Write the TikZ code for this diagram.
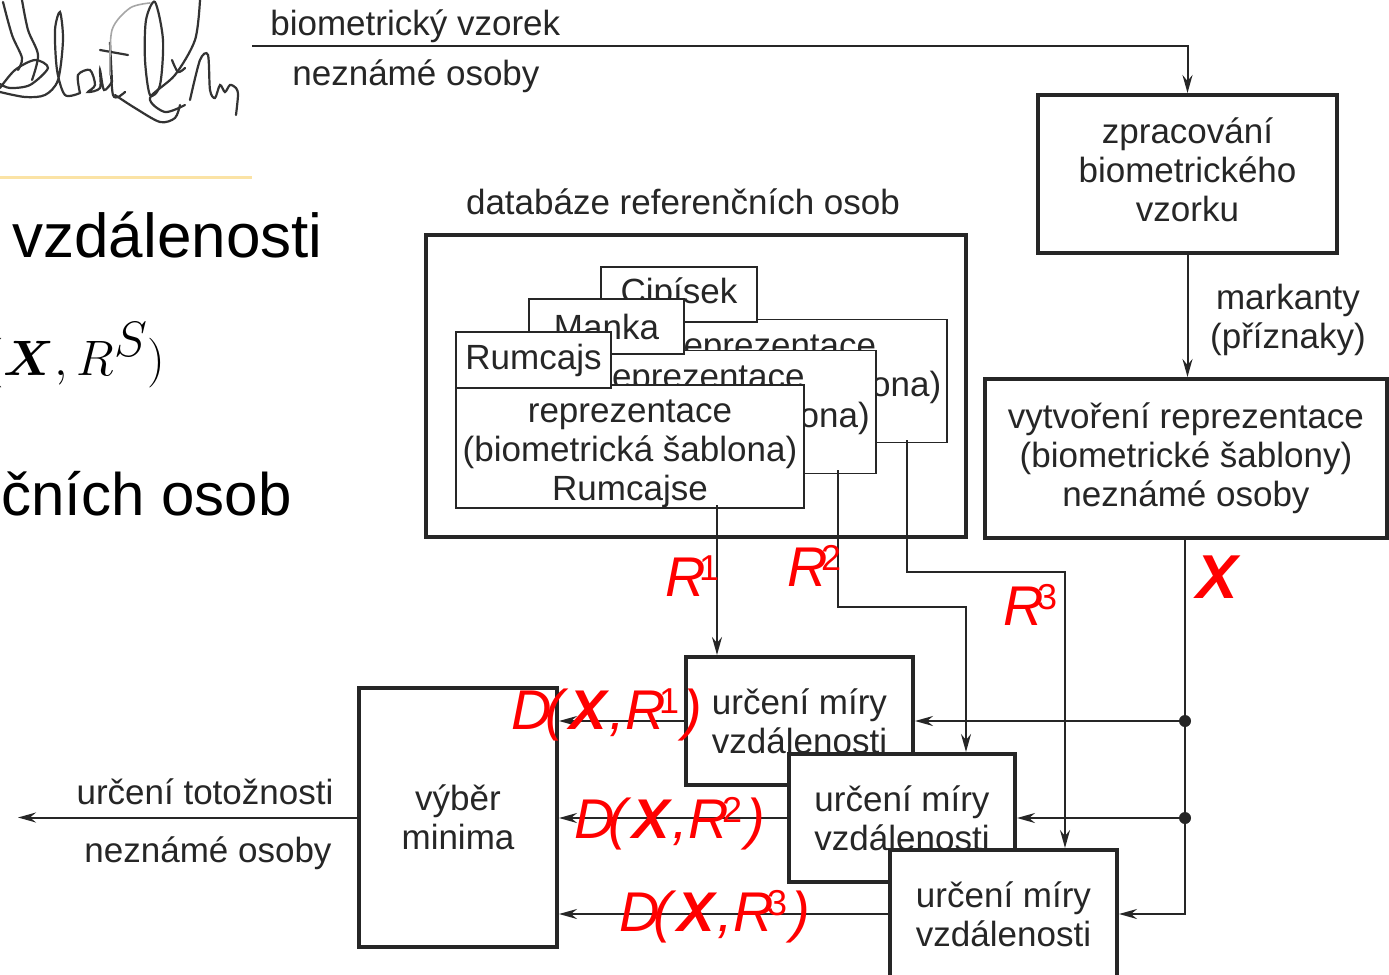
\documentclass[tikz,border=0pt]{standalone}
\usepackage{amsmath}
\usepackage[no-math]{fontspec}
\setmainfont{Liberation Sans}
\usetikzlibrary{arrows.meta}
\definecolor{ln}{HTML}{262626}
\definecolor{rd}{HTML}{FF0000}
\definecolor{org}{HTML}{FBE3A5}
\newcommand{\fs}{\fontsize{17.5}{19.5}\selectfont}
\newcommand{\bigfs}{\fontsize{30}{36}\selectfont}
\newcommand{\rfs}{\fontsize{28}{30}\selectfont}
\newcommand{\topstrut}{\rule{0pt}{19pt}}
\newcommand{\supR}[1]{\textit{R}\kern-0.12em\raisebox{8pt}{\fontsize{18}{18}\selectfont #1}}
\newcommand{\dxr}[1]{\textit{D}\kern-0.12em\textit{(}\kern0.02em\textbf{\textit{X}}\textit{,}\supR{#1}\kern0.08em\textit{)}}
\begin{document}
\begin{tikzpicture}[x=0.5pt,y=-0.5pt,
  box/.style={draw=ln, line width=2pt, fill=white, inner sep=0pt, font=\fs, align=center, text=ln},
  card/.style={draw=ln, line width=0.8pt, fill=white, inner sep=0pt, font=\fs, align=center, text=ln},
  conn/.style={draw=ln, line width=1pt},
  arr/.style={conn, -{Stealth[length=9pt,width=5pt,inset=3pt]}},
  lbl/.style={font=\fs, text=ln, inner sep=0pt, align=center},
  redlbl/.style={font=\rfs, text=rd, inner sep=0pt},
  sig/.style={draw=black!80, line width=1.1pt, line cap=round},
]
\useasboundingbox (0,0) rectangle (1389,975);
\fill[white] (0,0) rectangle (1389,975);
\clip (0,0) rectangle (1389,975);

% signature
\draw[sig] plot[smooth] coordinates {(3,2) (12,35) (22,58) (18,70)};
\draw[sig] plot[smooth] coordinates {(22,0) (28,30) (38,55) (32,80)};
\draw[sig] plot[smooth] coordinates {(0,88) (15,70) (35,60) (48,68) (30,85) (10,88) (0,84)};
\draw[sig] plot[smooth] coordinates {(0,92) (25,97) (45,95) (58,80) (63,40) (60,12) (55,30) (57,70) (65,95) (80,93)};
\draw[sig] plot[smooth] coordinates {(80,93) (78,75) (90,70) (95,85) (88,92) (100,88) (100,70) (104,90) (112,82)};
\draw[sig] plot[smooth] coordinates {(112,82) (110,42) (113,95) (125,92)};
\draw[sig] (100,50) -- (128,55);
\draw[sig] plot[smooth cycle] coordinates {(155,2) (163,40) (160,85) (150,95) (145,60) (146,20)};
\draw[sig, draw=black!35, line width=0.8pt] plot[smooth] coordinates {(110,75) (112,30) (130,8) (150,3)};
\draw[sig] plot[smooth] coordinates {(115,95) (135,108) (160,122) (175,118) (180,105)};
\draw[sig] plot[smooth] coordinates {(200,0) (195,40) (175,75) (150,98) (165,112) (185,105)};
\draw[sig] plot[smooth] coordinates {(190,100) (200,60) (208,55) (210,90) (215,98) (220,85) (225,92) (230,85) (236,88) (238,95) (236,115)};
\draw[sig] plot[smooth] coordinates {(172,60) (178,72) (185,68)};
\draw[org, line width=1.5pt] (0,177) -- (252,177);

% left slide text
\node[anchor=base west, inner sep=0pt, font=\fontsize{31}{36}\selectfont] (t1) at (12,257) {vzdálenosti};
\node[anchor=base east, inner sep=0pt, font=\fontsize{33}{38}\selectfont] (t2) at (166,375) {$(\boldsymbol{X}, R^{S})$};
\node[anchor=base east, inner sep=0pt, font=\bigfs] (t3) at (292,515) {referenčních osob};

% database
\node[box] (db) at (696,386) [minimum width=270pt, minimum height=151pt] {};
\node[lbl, anchor=base] (dbl) at (683,214) {databáze referenčních osob};

\node[card, minimum width=173pt, minimum height=59pt] (cipB) at (774,381) {\topstrut reprezentace\\(biometrická šablona)\\Cipíska};
\node[card, minimum width=78pt, minimum height=27.5pt] (cipT) at (679,294.5) {Cipísek};
\node[card, minimum width=173.5pt, minimum height=58pt] (manB) at (702.5,412) {\topstrut reprezentace\\(biometrická šablona)\\Manky};
\node[card, minimum width=77.5pt, minimum height=27.5pt] (manT) at (606.5,326.5) {Manka};
\node[card, minimum width=174pt, minimum height=58.5pt] (rumB) at (630,446.5) {\topstrut reprezentace\\(biometrická šablona)\\Rumcajse};
\node[card, minimum width=77.5pt, minimum height=28pt] (rumT) at (533.5,360) {Rumcajs};

% right column
\node[box, minimum width=149.5pt, minimum height=79pt] (zprac) at (1187.5,174) {zpracování\\biometrického\\vzorku\rule[-4pt]{0pt}{1pt}};
\node[box, minimum width=201pt, minimum height=79.5pt] (vytv) at (1186,458.5) {vytvoření reprezentace\\(biometrické šablony)\\neznámé osoby};

% distance boxes
\node[box, minimum width=113.5pt, minimum height=64pt] (box1) at (799.5,721) {určení míry\\vzdálenosti};
\node[box, minimum width=113pt, minimum height=64pt] (box2) at (902,818) {určení míry\\vzdálenosti};
\node[box, minimum width=113.5pt, minimum height=64pt] (box3) at (1003.5,914) {určení míry\\vzdálenosti};
\node[box, minimum width=99pt, minimum height=129.5pt] (min) at (458,817.5) {výběr\\minima};

% top input
\coordinate (s0) at (252,46);
\draw[arr] (s0) -| (zprac.north);
\node[lbl, anchor=base west] (bv) at (270,35) {biometrický vzorek};
\node[lbl, anchor=base west] (no) at (292,85) {neznámé osoby};

\draw[arr] (zprac.south) -- (zprac.south |- vytv.north);
\node[lbl] (mk) at (1288,320) {markanty\\(příznaky)};

% X distribution
\coordinate (xt) at (1185,538);
\coordinate (d1) at (xt |- box1.east);
\coordinate (d2) at (xt |- box2.east);
\draw[arr] (xt) |- (box3.east);
\draw[arr] (d1) -- (box1.east);
\draw[arr] (d2) -- (box2.east);
\fill[ln] (d1) circle[radius=3pt];
\fill[ln] (d2) circle[radius=3pt];

% R lines
\coordinate (r1) at (717,505);
\draw[arr] (r1) -- (r1 |- box1.north);
\coordinate (r2) at (838,470);
\coordinate (r2k) at (966,607);
\draw[arr] (r2) |- (r2k) -- (r2k |- box2.north);
\coordinate (r3) at (907,440);
\coordinate (r3k) at (1065,572);
\draw[arr] (r3) |- (r3k) -- (r3k |- box3.north);

% to minimum
\draw[arr] (box1.west) -- (box1.west -| min.east);
\draw[arr] (box2.west) -- (box2.west -| min.east);
\draw[arr] (box3.west) -- (box3.west -| min.east);
\coordinate (out) at (18,817.5);
\draw[arr] (min.west) -- (out);
\node[lbl, anchor=base] (ut) at (205,804) {určení totožnosti};
\node[lbl, anchor=base] (un) at (208,862) {neznámé osoby};

% red labels
\node[redlbl, anchor=base west] (lr1) at (665,596) {\supR{1}};
\node[redlbl, anchor=base west] (lr2) at (787,586) {\supR{2}};
\node[redlbl, anchor=base west] (lr3) at (1003,625) {\supR{3}};
\node[redlbl, anchor=base west, font=\fontsize{31}{33}\selectfont] (lx) at (1196,598) {\textbf{\textit{X}}};
\node[redlbl, anchor=base west] (dd1) at (511,729) {\dxr{1}};
\node[redlbl, anchor=base west] (dd2) at (574,838) {\dxr{2}};
\node[redlbl, anchor=base west] (dd3) at (619,931) {\dxr{3}};
\end{tikzpicture}
\end{document}
